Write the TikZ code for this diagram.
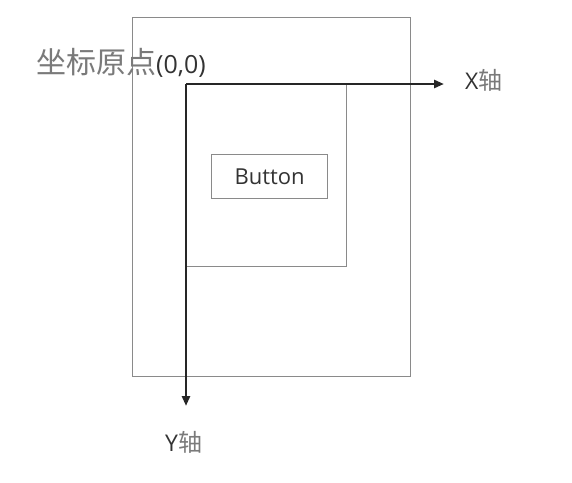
\documentclass[tikz,border=0pt]{standalone}
\usepackage{fontspec}
\setmainfont{Open Sans}
\newfontfamily\cjk{Noto Sans CJK SC}
\usetikzlibrary{arrows.meta}
\definecolor{txtgray}{HTML}{7A7A7A}
\definecolor{txtdark}{HTML}{333333}
\definecolor{linegray}{HTML}{8A8A8A}
\tikzset{
  box/.style={draw=linegray, line width=1.1pt},
  axis/.style={draw=black!85, line width=2.8pt, -{Triangle[length=10pt,width=8pt]}},
  lbl/.style={inner sep=0pt, text=txtdark},
}
\begin{document}
\begin{tikzpicture}[x=1pt,y=-1pt]
\useasboundingbox (0,0) rectangle (572,482);
\fill[white] (0,0) rectangle (572,482);
\node[box, minimum width=278pt, minimum height=359pt, anchor=north west, inner sep=0pt] (outer) at (132,17) {};
\node[box, minimum width=160pt, minimum height=182pt, anchor=north west, inner sep=0pt] (inner) at (186,84) {};
\node[box, minimum width=116pt, minimum height=44pt, anchor=north west, inner sep=0pt] (button) at (211,154) {};
\node[lbl, font=\fontsize{22}{24}\selectfont] (btext) at (button.center) {Button};
\coordinate (O) at (186,84);
\coordinate (xend) at (444,84);
\coordinate (yend) at (186,406);
\draw[axis] (O) -- (xend);
\draw[axis] (O) -- (yend);
\node[lbl, anchor=base west] (origin) at (36,73) {{\cjk\fontsize{30}{32}\selectfont\color{txtgray}坐标原点}{\fontsize{25}{28}\selectfont(0,0)}};
\node[lbl, anchor=base west] (xlbl) at (465,89) {{\fontsize{23}{26}\selectfont X}{\cjk\fontsize{24}{26}\selectfont\color{txtgray}轴}};
\node[lbl, anchor=base west] (ylbl) at (165,451) {{\fontsize{23}{26}\selectfont Y}{\cjk\fontsize{24}{26}\selectfont\color{txtgray}轴}};
\end{tikzpicture}
\end{document}
